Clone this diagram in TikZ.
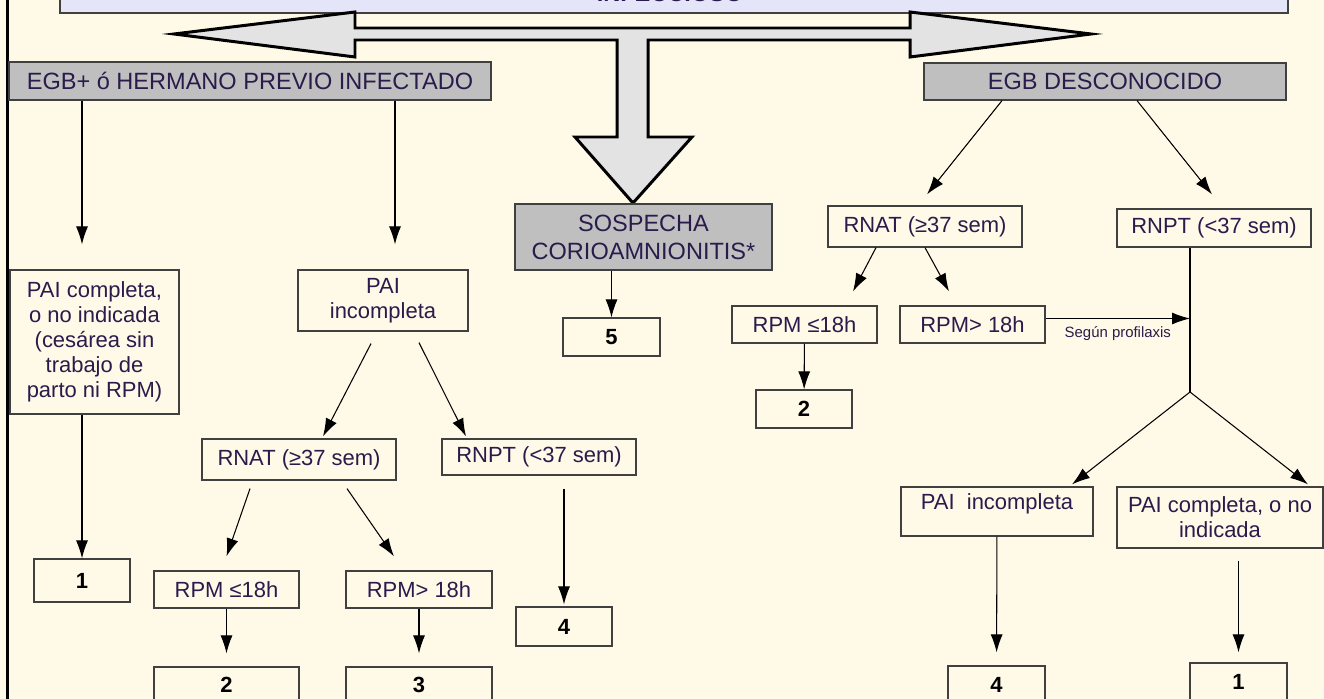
\documentclass[tikz,border=0pt]{standalone}
\usepackage{fontspec}
\setmainfont{Liberation Sans}
\usetikzlibrary{arrows.meta}
\usetikzlibrary{calc}
\definecolor{fondo}{rgb}{1,0.976,0.905}
\definecolor{lavanda}{rgb}{0.9,0.9,0.98}
\definecolor{grisbox}{rgb}{0.75,0.75,0.75}
\definecolor{grisflecha}{rgb}{0.89,0.89,0.89}
\definecolor{borde}{rgb}{0.25,0.25,0.25}
\definecolor{texto}{rgb}{0.16,0.11,0.3}

\begin{document}
\begin{tikzpicture}[x=0.02cm, y=-0.02cm,
  caja/.style={draw=borde, line width=0.7pt, inner sep=1pt, align=center, text=texto, font=\fontsize{12.5}{14.2}\selectfont},
  cajagris/.style={caja, fill=grisbox, font=\fontsize{13.4}{16}\selectfont},
  numero/.style={caja, text=black, font=\fontsize{12.5}{14}\selectfont\bfseries},
  tam/.style 2 args={minimum width=#1*0.02cm, minimum height=#2*0.02cm},
  flecha/.style={-{Latex[length=0.36cm,width=0.24cm]}, line width=0.6pt, black}]

\fill[fondo] (0,0) rectangle (1324,699);
\useasboundingbox (0,0) rectangle (1324,699);

% cabecera cortada
\node[caja, fill=lavanda, tam={1228}{46}] (titulo) at (674,-10) {};
\node[anchor=base, font=\fontsize{13.4}{16}\selectfont\bfseries, text=texto] (tituloTxt) at (670,2) {INFECCIOSO};

% flecha grande en T
\draw[line width=1.7pt, fill=grisflecha, line join=miter] (174,34) -- (355,12) -- (355,28) -- (910,28) -- (910,12) -- (1091,34) -- (910,57) -- (910,40) -- (648,40) -- (648,137) -- (692,137) -- (633,203) -- (575,137) -- (617,137) -- (617,40) -- (355,40) -- (355,57) -- cycle;

\draw[line width=0.08cm] (7.5,0) -- (7.5,699);

% cajas
\node[cajagris, tam={482}{38}] (egbpos) at (250,81) {EGB+ ó HERMANO PREVIO INFECTADO};
\node[cajagris, tam={362}{37}] (egbdesc) at (1105,81.5) {EGB DESCONOCIDO};
\node[cajagris, tam={257}{66}, font=\fontsize{13.4}{15.9}\selectfont] (sospecha) at (643.5,237) {SOSPECHA\\CORIOAMNIONITIS*};

\node[caja, tam={169}{144}] (paicomp) at (94.5,342) {PAI completa,\\o no indicada\\(cesárea sin\\trabajo de\\parto ni RPM)};
\node[caja, tam={170}{61}] (paiinc) at (383,300.5) {PAI\\incompleta};
\node[caja, tam={194}{41}] (rnat1) at (299,459.5) {RNAT (≥37 sem)};
\node[caja, tam={194}{36}] (rnpt1) at (539,457) {RNPT (<37 sem)};
\node[numero, tam={96}{43}] (uno1) at (82,580.5) {1};
\node[caja, tam={145}{37}] (rpm1a) at (226.5,589.5) {RPM ≤18h};
\node[caja, tam={146}{37}] (rpm1b) at (419,589.5) {RPM> 18h};
\node[numero, tam={96}{39}] (cuatro1) at (564,626.5) {4};
\node[numero, tam={145}{36}] (dos1) at (226.5,685) {2};
\node[numero, tam={146}{36}] (tres1) at (419,685) {3};
\node[numero, tam={97}{38}] (cinco) at (611.5,337) {5};

\node[caja, tam={194}{41}] (rnat2) at (925,226.5) {RNAT (≥37 sem)};
\node[caja, tam={194}{38}] (rnpt2) at (1214,228) {RNPT (<37 sem)};
\node[caja, tam={145}{37}] (rpm2a) at (804.5,324.5) {RPM ≤18h};
\node[caja, tam={145}{37}] (rpm2b) at (972.5,324.5) {RPM> 18h};
\node[numero, tam={96}{38}] (dos2) at (804,409) {2};
\coordinate (cruce) at (1190,392);
\node[caja, tam={192}{49}, text depth=11pt] (paiinc2) at (997,511.5) {PAI\ \ incompleta};
\node[caja, tam={206}{61}] (paicomp2) at (1220,517.5) {PAI completa, o no\\indicada};
\node[numero, tam={97}{38}] (cuatro2) at (996.5,685) {4};
\node[numero, tam={97}{38}] (uno2) at (1238.5,682) {1};

% rama izquierda
\draw[flecha, shorten >=0.5cm] (egbpos.south -| uno1.north) -- (paicomp.north -| uno1.north);
\draw[flecha, shorten >=0.5cm] ($(paiinc.north |- egbpos.south)+(12,0)$) -- ($(paiinc.north)+(12,0)$);
\draw[flecha] (paicomp.south -| uno1.north) -- (uno1.north);
\draw[flecha] ($(paiinc.south)+(-12,12)$) -- ($(rnat1.north)+(24,-2)$);
\draw[flecha] ($(paiinc.south)+(36,11)$) -- ($(rnpt1.north)+(-73,-2)$);
\draw[flecha] ($(rnat1.south)+(-49,8)$) -- ($(rpm1a.north)+(0,-14)$);
\draw[flecha] ($(rnat1.south)+(48,8)$) -- ($(rpm1b.north)+(-25,-14)$);
\draw[flecha, shorten <=0.26cm, shorten >=0.04cm] (rnpt1.south -| cuatro1.north) -- (cuatro1.north);
\draw[flecha, shorten >=0.26cm] (rpm1a) -- (dos1);
\draw[flecha, shorten >=0.26cm] (rpm1b) -- (tres1);

% centro
\draw[flecha] (sospecha.south -| cinco.north) -- (cinco.north);

% rama derecha
\draw[flecha] ($(egbdesc.south)+(-103,0)$) -- ($(rnat2.north)+(2,-11)$);
\draw[flecha] ($(egbdesc.south)+(32,0)$) -- ($(rnpt2.north)+(-2,-14)$);
\draw[flecha] ($(rnat2.south)+(-49,0)$) -- ($(rpm2a.north)+(48.5,-14)$);
\draw[flecha] (rnat2.south) -- ($(rpm2b.north)+(-23.5,-14)$);
\draw[flecha] (rpm2a) -- (dos2);
\draw[line width=0.6pt] (rnpt2.south -| cruce) -- (cruce);
\draw[flecha] ($(rpm2b.east)+(0,-6)$) coordinate (profi) -- (profi -| cruce) node[midway, below=1pt, font=\fontsize{8.5}{10}\selectfont, text=texto] (profiTxt) {Según profilaxis};
\draw[flecha] (cruce) -- ($(paiinc2.north)+(75,-2)$);
\draw[flecha] (cruce) -- ($(paicomp2.north)+(88,-2)$);
\draw[flecha, shorten >=0.26cm] (paiinc2) -- (cuatro2);
\draw[flecha, shorten <=0.24cm, shorten >=0.2cm] (paicomp2.south -| uno2.north) -- (uno2.north);

\end{tikzpicture}
\end{document}
